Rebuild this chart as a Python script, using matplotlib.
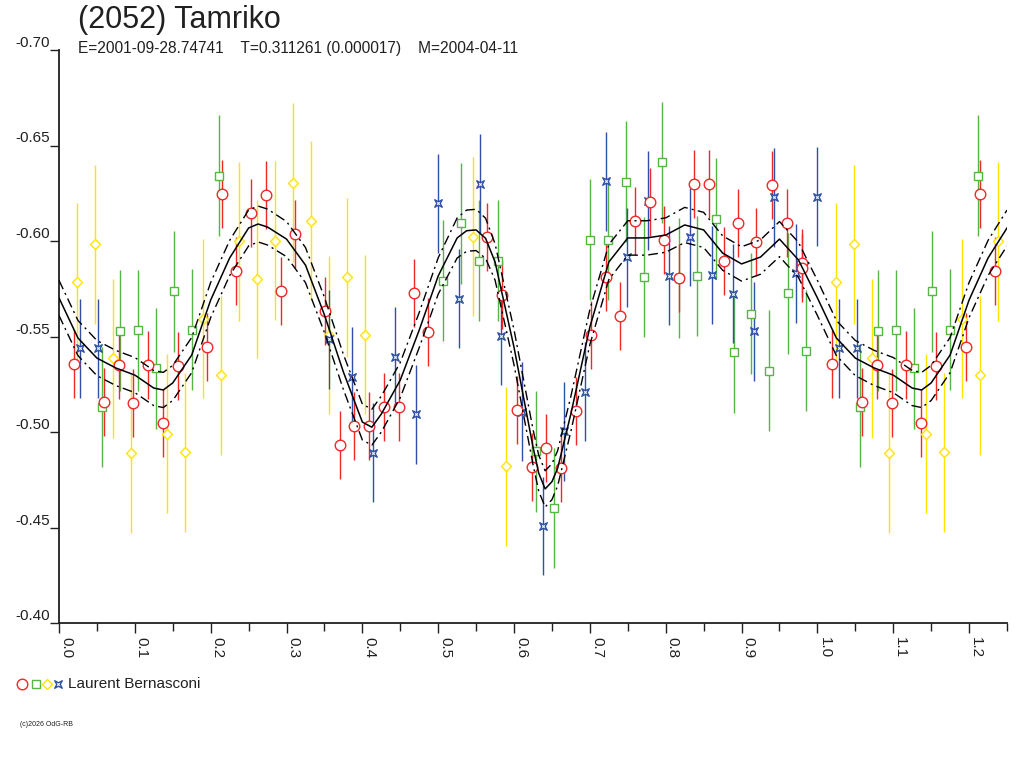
import numpy as np
import matplotlib
matplotlib.use('Agg')
import matplotlib.pyplot as plt
from matplotlib.path import Path
from matplotlib.lines import Line2D

plt.rcParams['font.family'] = ['Liberation Sans', 'DejaVu Sans']

# ---------------- text ----------------
title = "(2052) Tamriko"
subtitle = "E=2001-09-28.74741    T=0.311261 (0.000017)    M=2004-04-11"
observer = "Laurent Bernasconi"
credit = "(c)2026 OdG-RB"

# ---------------- data (phase, relative magnitude) ----------------
red_phase = [0.0194, 0.0593, 0.0787, 0.0980, 0.1174, 0.1367, 0.1565, 0.1955, 0.2145, 0.2338,
             0.2534, 0.2729, 0.2923, 0.3116, 0.3503, 0.3701, 0.3894, 0.4088, 0.4285, 0.4483,
             0.4677, 0.4869, 0.5647, 0.5841, 0.6039, 0.6233, 0.6425, 0.6623, 0.6817, 0.7015,
             0.7213, 0.7401, 0.7595, 0.7793, 0.7981, 0.8179, 0.8377, 0.8571, 0.8765, 0.8957,
             0.9194, 0.9397, 0.9595, 0.9793, 0.9801]
red_mag = [-0.5358, -0.5156, -0.5352, -0.5153, -0.5351, -0.5049, -0.5347, -0.5445, -0.6246, -0.5845,
           -0.6145, -0.6241, -0.5738, -0.6037, -0.5635, -0.4932, -0.5033, -0.5030, -0.5129, -0.5129,
           -0.5728, -0.5525, -0.6022, -0.5717, -0.5117, -0.4815, -0.4915, -0.4812, -0.5112, -0.5509,
           -0.5810, -0.5607, -0.6106, -0.6206, -0.6004, -0.5805, -0.6300, -0.6298, -0.5897, -0.6096,
           -0.5995, -0.6293, -0.6093, -0.5886, -0.5857]
red_err = 0.0178

green_phase = [0.0563, 0.0800, 0.1038, 0.1275, 0.1512, 0.1750, 0.2114, 0.5059, 0.5297, 0.5538,
               0.5785, 0.6294, 0.6527, 0.7002, 0.7239, 0.7476, 0.7714, 0.7947, 0.8179, 0.8416,
               0.8659, 0.8896, 0.9128, 0.9366, 0.9608, 0.9846]
green_mag = [-0.5131, -0.5530, -0.5532, -0.5334, -0.5737, -0.5536, -0.6342, -0.5792, -0.6093, -0.5897,
             -0.5897, -0.4899, -0.4602, -0.6007, -0.6007, -0.6310, -0.5812, -0.6412, -0.5806, -0.5817,
             -0.6117, -0.5417, -0.5619, -0.5321, -0.5726, -0.5426]
green_err = 0.0316

yellow_phase = [0.0241, 0.0479, 0.0716, 0.0949, 0.1428, 0.1665, 0.1903, 0.2140, 0.2377, 0.2615,
                0.2852, 0.3089, 0.3327, 0.3564, 0.3801, 0.4039, 0.5455, 0.5898]
yellow_mag = [-0.5784, -0.5984, -0.5386, -0.4888, -0.4990, -0.4894, -0.5593, -0.5297, -0.5998, -0.5801,
              -0.6002, -0.6304, -0.6106, -0.5508, -0.5810, -0.5509, -0.6022, -0.4820]
yellow_err = 0.0416

blue_phase = [0.0281, 0.0518, 0.3556, 0.3867, 0.4144, 0.4430, 0.4711, 0.4993, 0.5274, 0.5551,
              0.5828, 0.6109, 0.6386, 0.6659, 0.6940, 0.7217, 0.7493, 0.7770, 0.8043, 0.8324,
              0.8610, 0.8887, 0.9164, 0.9432, 0.9714, 0.9995]
blue_mag = [-0.5438, -0.5438, -0.5485, -0.5290, -0.4892, -0.5394, -0.5094, -0.6197, -0.5698, -0.6300,
            -0.5503, -0.5106, -0.4508, -0.5005, -0.5211, -0.6313, -0.5916, -0.6211, -0.5818, -0.6021,
            -0.5822, -0.5724, -0.5527, -0.6229, -0.5831, -0.6232]
blue_err = 0.0259

# fitted light curve, with its uncertainty band half-width
curve_phase = [0.000, 0.025, 0.050, 0.075, 0.100, 0.125, 0.1375, 0.150, 0.175, 0.200,
               0.225, 0.250, 0.2625, 0.275, 0.300, 0.325, 0.350, 0.375, 0.400, 0.4125,
               0.425, 0.450, 0.475, 0.500, 0.525, 0.5375, 0.550, 0.5625, 0.575, 0.600,
               0.625, 0.6325, 0.641, 0.650, 0.6575, 0.675, 0.700, 0.725, 0.750, 0.775,
               0.800, 0.825, 0.850, 0.875, 0.900, 0.925, 0.950, 0.975]
curve_mag = [-0.5702, -0.5492, -0.5387, -0.5335, -0.5298, -0.5230, -0.5220, -0.5257, -0.5403, -0.5691,
             -0.5911, -0.6068, -0.6089, -0.6073, -0.6010, -0.5874, -0.5613, -0.5314, -0.5052, -0.5025,
             -0.5094, -0.5272, -0.5534, -0.5817, -0.6016, -0.6054, -0.6058, -0.6014, -0.5890, -0.5443,
             -0.4922, -0.4785, -0.4702, -0.4740, -0.4810, -0.5096, -0.5550, -0.5890, -0.6016, -0.6016,
             -0.6031, -0.6084, -0.6058, -0.5937, -0.5880, -0.5916, -0.6010, -0.5901]
curve_band = [0.0092, 0.0092, 0.0092, 0.0092, 0.0092, 0.0092, 0.0092, 0.0092, 0.0092, 0.0092,
              0.0092, 0.0094, 0.0094, 0.0094, 0.0092, 0.0092, 0.0092, 0.0092, 0.0094, 0.0094,
              0.0094, 0.0092, 0.0092, 0.0095, 0.0105, 0.0108, 0.0108, 0.0105, 0.0095, 0.0092,
              0.0092, 0.0094, 0.0095, 0.0094, 0.0092, 0.0092, 0.0092, 0.0092, 0.0090, 0.0090,
              0.0090, 0.0092, 0.0092, 0.0090, 0.0090, 0.0090, 0.0092, 0.0092]

xticks = [0.0, 0.1, 0.2, 0.3, 0.4, 0.5, 0.6, 0.7, 0.8, 0.9, 1.0, 1.1, 1.2]
xtick_labels = ["0.0", "0.1", "0.2", "0.3", "0.4", "0.5", "0.6", "0.7", "0.8", "0.9", "1.0", "1.1", "1.2"]
xminor = [0.05, 0.15, 0.25, 0.35, 0.45, 0.55, 0.65, 0.75, 0.85, 0.95, 1.05, 1.15, 1.25]
yticks = [-0.70, -0.65, -0.60, -0.55, -0.50, -0.45, -0.40]
ytick_labels = ["-0.70", "-0.65", "-0.60", "-0.55", "-0.50", "-0.45", "-0.40"]

PH_MAX = 1.25


def wrap(ph, mg):
    ph = np.asarray(ph, float)
    mg = np.asarray(mg, float)
    m = ph + 1.0 <= PH_MAX
    return np.concatenate([ph, ph[m] + 1.0]), np.concatenate([mg, mg[m]])


def wrap_curve(ph, *vals):
    ph = np.asarray(ph, float)
    m = ph + 1.0 <= PH_MAX + 1e-9
    out_ph = np.concatenate([ph, ph[m] + 1.0])
    outs = [np.concatenate([np.asarray(v, float), np.asarray(v, float)[m]]) for v in vals]
    return out_ph, outs


# ---------------- figure ----------------
W, H = 1024, 768
fig = plt.figure(figsize=(W / 100, H / 100), dpi=100)
fig.patch.set_facecolor('white')
ax_l, ax_r, ax_t, ax_b = 59, 1007, 50, 623
ax = fig.add_axes([ax_l / W, 1 - ax_b / H, (ax_r - ax_l) / W, (ax_b - ax_t) / H])

RED = '#F02828'
GREEN = '#55B545'
YELLOW = '#FFE400'
BLUE = '#2F50A8'

star = Path([(-1, -1), (0, -0.45), (1, -1), (0.45, 0), (1, 1), (0, 0.45), (-1, 1), (-0.45, 0), (-1, -1)],
            [Path.MOVETO] + [Path.LINETO] * 7 + [Path.CLOSEPOLY])

series = [
    (yellow_phase, yellow_mag, yellow_err, YELLOW, 'D', 5.4),
    (green_phase, green_mag, green_err, GREEN, 's', 5.6),
    (blue_phase, blue_mag, blue_err, BLUE, star, 5.4),
    (red_phase, red_mag, red_err, RED, 'o', 7.6),
]
for ph, mg, er, col, mk, ms in series:
    x, y = wrap(ph, mg)
    ax.errorbar(x, y, yerr=er, fmt='none', ecolor=col, elinewidth=1.0, capsize=0, zorder=2)
    ax.plot(x, y, linestyle='none', marker=mk, markersize=ms, markerfacecolor='white',
            markeredgecolor=col, markeredgewidth=1.0, zorder=2.5)

cx, (cy, cb) = wrap_curve(curve_phase, curve_mag, curve_band)
cx = np.append(cx, [1.0])
cy = np.append(cy, [curve_mag[0]])
cb = np.append(cb, [curve_band[0]])
order = np.argsort(cx)
cx, cy, cb = cx[order], cy[order], cb[order]
ax.plot(cx, cy, color='black', lw=1.1, zorder=4)
ax.plot(cx, cy - cb, color='black', lw=1.0, linestyle=(0, (7, 3, 1.5, 3)), zorder=4)
ax.plot(cx, cy + cb, color='black', lw=1.0, linestyle=(0, (7, 3, 1.5, 3)), zorder=4)

ax.set_xlim(0, PH_MAX)
ax.set_ylim(-0.40, -0.70)

for s in ['top', 'right']:
    ax.spines[s].set_visible(False)
for s in ['left', 'bottom']:
    ax.spines[s].set_color('#202020')
    ax.spines[s].set_linewidth(1.3)

ax.set_xticks(xticks, xtick_labels, rotation=-90, rotation_mode='anchor', ha='left', va='bottom')
ax.set_xticks(xminor, minor=True)
ax.set_yticks(yticks, ytick_labels, va='bottom')
ax.tick_params(axis='x', which='major', length=7.2, width=1.0, color='#202020', pad=3,
               labelsize=11, labelcolor='#202020')
ax.tick_params(axis='x', which='minor', length=6.0, width=1.0, color='#202020')
ax.tick_params(axis='y', which='major', length=6.7, width=1.0, color='#202020', pad=0,
               labelsize=11, labelcolor='#202020')

# ---------------- texts ----------------
fig.text(78 / W, 1 - 20 / H, title, fontsize=22, color='#202020', ha='left', va='center')
fig.text(78 / W, 1 - 48 / H, subtitle, fontsize=11.2, color='#202020', ha='left', va='center')

# legend
leg_y = 1 - 684 / H
for xp, mk, col, ms in [(22, 'o', RED, 7.6), (36, 's', GREEN, 5.6), (47, 'D', YELLOW, 5.4), (58, star, BLUE, 5.4)]:
    fig.add_artist(Line2D([xp / W], [leg_y], transform=fig.transFigure, linestyle='none', marker=mk,
                          markersize=ms, markerfacecolor='white', markeredgecolor=col, markeredgewidth=1.0))
fig.text(68 / W, leg_y, observer, fontsize=11, color='#202020', ha='left', va='center')
fig.text(20 / W, 1 - 724 / H, credit, fontsize=5, color='#202020', ha='left', va='center')

fig.savefig('out.png', dpi=100, facecolor='white')
